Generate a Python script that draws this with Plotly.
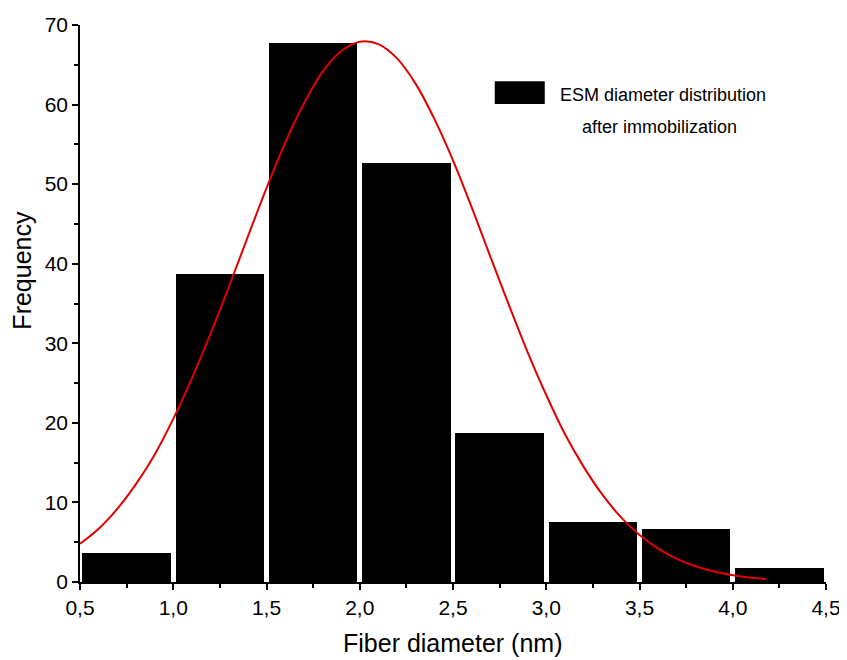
import plotly.graph_objects as go

# Histogram bins (centers) and frequencies
bin_centers = [0.75, 1.25, 1.75, 2.25, 2.75, 3.25, 3.75, 4.25]
frequencies = [3.7, 38.7, 67.7, 52.7, 18.7, 7.6, 6.7, 1.7]

# Fitted normal curve
curve_x = [0.5, 0.6, 0.7, 0.8, 0.9, 1.0, 1.1, 1.2, 1.3, 1.4, 1.5, 1.6, 1.7, 1.8, 1.9,
           2.0, 2.1, 2.2, 2.3, 2.4, 2.5, 2.6, 2.7, 2.8, 2.9, 3.0, 3.1, 3.2, 3.3, 3.4,
           3.5, 3.6, 3.7, 3.8, 3.9, 4.0, 4.1, 4.18]
curve_y = [4.8, 6.7, 9.2, 12.3, 16.0, 20.5, 25.6, 31.2, 37.2, 43.4, 49.5, 55.2, 60.1,
           64.1, 66.7, 67.9, 67.6, 65.8, 62.6, 58.2, 53.0, 47.1, 40.9, 34.8, 28.9, 23.5,
           18.6, 14.5, 11.0, 8.15, 5.9, 4.2, 2.9, 1.97, 1.31, 0.85, 0.54, 0.37]

x_tickvals = [0.5, 1.0, 1.5, 2.0, 2.5, 3.0, 3.5, 4.0, 4.5]
x_ticktext = ["0,5", "1,0", "1,5", "2,0", "2,5", "3,0", "3,5", "4,0", "4,5"]
y_tickvals = [0, 10, 20, 30, 40, 50, 60, 70]

x_title = "Fiber diameter (nm)"
y_title = "Frequency"
legend_line1 = "ESM diameter distribution"
legend_line2 = "after immobilization"

FONT = "Liberation Sans, Arial, sans-serif"

fig = go.Figure()
fig.add_trace(go.Bar(
    x=bin_centers, y=frequencies, width=0.475,
    marker=dict(color="black", line=dict(width=0)),
    showlegend=False,
))
fig.add_trace(go.Scatter(
    x=curve_x, y=curve_y, mode="lines",
    line=dict(color="#e00000", width=2, shape="spline"),
    showlegend=False,
))

axis_common = dict(
    showline=True, linecolor="black", linewidth=1.5,
    ticks="outside", ticklen=6, tickwidth=1.5, tickcolor="black",
    showgrid=False, zeroline=False, mirror=False, automargin=False,
    tickfont=dict(family=FONT, size=21, color="black"),
)

fig.update_xaxes(
    range=[0.5, 4.5], tickvals=x_tickvals, ticktext=x_ticktext,
    minor=dict(tickvals=[0.75, 1.25, 1.75, 2.25, 2.75, 3.25, 3.75, 4.25],
               ticks="outside", ticklen=4, tickwidth=1.5, tickcolor="black"),
    **axis_common,
)
fig.update_yaxes(
    range=[0, 70], tickvals=y_tickvals,
    minor=dict(tickvals=[5, 15, 25, 35, 45, 55, 65],
               ticks="outside", ticklen=4, tickwidth=1.5, tickcolor="black"),
    **axis_common,
)

# Axis titles
fig.add_annotation(text=x_title, xref="paper", yref="paper",
                   x=0.5, y=-0.11, showarrow=False, xanchor="center", yanchor="middle",
                   font=dict(family=FONT, size=25, color="black"))
fig.add_annotation(text=y_title, xref="paper", yref="paper", textangle=-90,
                   x=-0.077, y=0.56, showarrow=False, xanchor="center", yanchor="middle",
                   font=dict(family=FONT, size=25, color="black"))

# Legend
fig.add_shape(type="rect", xref="paper", yref="paper",
              x0=0.556, x1=0.623, y0=0.858, y1=0.899,
              fillcolor="black", line=dict(width=0))
fig.add_annotation(text=legend_line1, xref="paper", yref="paper",
                   x=0.782, y=0.875, showarrow=False, xanchor="center", yanchor="middle",
                   font=dict(family=FONT, size=18, color="black"))
fig.add_annotation(text=legend_line2, xref="paper", yref="paper",
                   x=0.777, y=0.816, showarrow=False, xanchor="center", yanchor="middle",
                   font=dict(family=FONT, size=18, color="black"))

fig.update_layout(
    width=839, height=652,
    margin=dict(l=72, r=21, t=17, b=78),
    plot_bgcolor="white", paper_bgcolor="white",
    bargap=0,
)

fig.write_html("out.html")
